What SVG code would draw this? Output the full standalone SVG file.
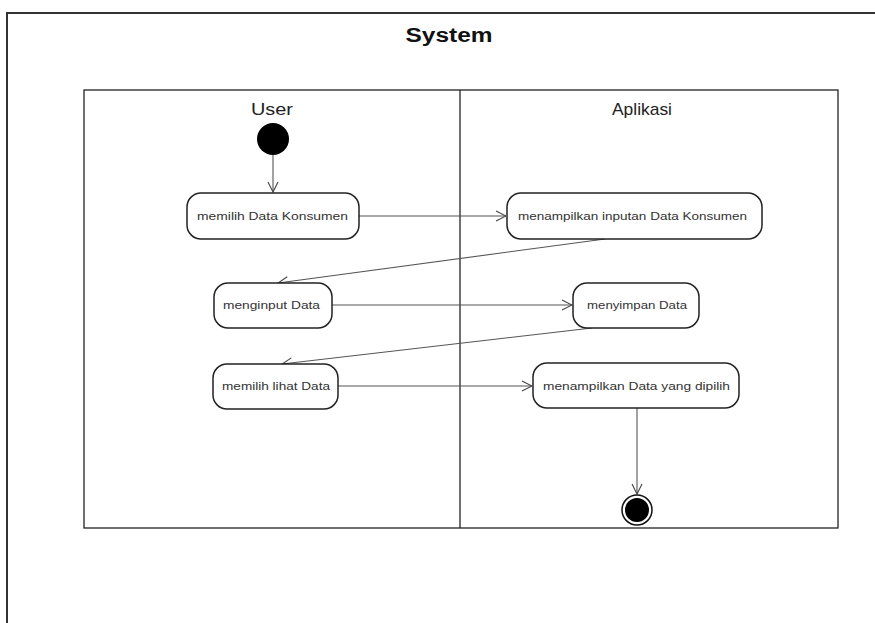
<svg xmlns="http://www.w3.org/2000/svg" width="875" height="623" viewBox="0 0 875 623">
  <style>
    .frame { fill: none; stroke: #333; stroke-width: 2; }
    .lane { fill: none; stroke: #222; stroke-width: 1.3; }
    .act { fill: #fff; stroke: #222; stroke-width: 1.5; }
    .lbl { font-family: "Liberation Sans", Arial, sans-serif; font-size: 11px; fill: #333; text-anchor: middle; dominant-baseline: central; }
    .hdr { font-family: "Liberation Sans", Arial, sans-serif; font-size: 17px; fill: #222; text-anchor: middle; }
    .title { font-family: "Liberation Sans", Arial, sans-serif; font-size: 20px; font-weight: bold; fill: #111; text-anchor: middle; }
    .flow { fill: none; stroke: #555; stroke-width: 1.1; marker-end: url(#open); }
  </style>
  <defs>
    <marker id="open" viewBox="0 0 12 12" refX="11" refY="6" markerWidth="12" markerHeight="12" markerUnits="userSpaceOnUse" orient="auto">
      <path d="M1,1 L11,6 L1,11" fill="none" stroke="#444" stroke-width="1.1"/>
    </marker>
  </defs>
  <rect width="875" height="623" fill="#fff"/>

  <!-- system boundary -->
  <g id="system">
    <path class="frame" d="M7,640 L7,13 L890,13"/>
    <text class="title" x="449" y="42" textLength="87" lengthAdjust="spacingAndGlyphs">System</text>
  </g>

  <!-- swimlanes -->
  <g id="lanes">
    <rect class="lane" x="84" y="90" width="754" height="438"/>
    <line class="lane" x1="460" y1="90" x2="460" y2="528"/>
    <text class="hdr" x="272" y="115" textLength="42" lengthAdjust="spacingAndGlyphs">User</text>
    <text class="hdr" x="642" y="115" textLength="60" lengthAdjust="spacingAndGlyphs">Aplikasi</text>
  </g>

  <!-- connectors -->
  <g id="connectors">
    <line class="flow" x1="273" y1="155" x2="273" y2="192"/>
    <line class="flow" x1="359" y1="216" x2="506" y2="216"/>
    <line class="flow" x1="605" y1="239" x2="278" y2="283"/>
    <line class="flow" x1="332" y1="305" x2="572" y2="305"/>
    <line class="flow" x1="592" y1="328" x2="282" y2="364"/>
    <line class="flow" x1="338" y1="386" x2="532" y2="386"/>
    <line class="flow" x1="637" y1="408" x2="637" y2="494"/>
  </g>

  <g id="start">
    <circle cx="273" cy="139" r="16" fill="#000"/>
  </g>

  <g id="a1">
    <rect class="act" x="187" y="193" width="172" height="46" rx="14"/>
    <text class="lbl" x="272.5" y="216" textLength="151" lengthAdjust="spacingAndGlyphs">memilih Data Konsumen</text>
  </g>
  <g id="a2">
    <rect class="act" x="507" y="193" width="255" height="46" rx="14"/>
    <text class="lbl" x="632.5" y="216" textLength="229" lengthAdjust="spacingAndGlyphs">menampilkan inputan Data Konsumen</text>
  </g>
  <g id="a3">
    <rect class="act" x="214" y="283" width="118" height="45" rx="14"/>
    <text class="lbl" x="271.5" y="305" textLength="97" lengthAdjust="spacingAndGlyphs">menginput Data</text>
  </g>
  <g id="a4">
    <rect class="act" x="573" y="283" width="126" height="45" rx="14"/>
    <text class="lbl" x="637" y="305" textLength="100" lengthAdjust="spacingAndGlyphs">menyimpan Data</text>
  </g>
  <g id="a5">
    <rect class="act" x="213" y="364" width="125" height="45" rx="14"/>
    <text class="lbl" x="276" y="386" textLength="108" lengthAdjust="spacingAndGlyphs">memilih lihat Data</text>
  </g>
  <g id="a6">
    <rect class="act" x="533" y="363" width="206" height="45" rx="14"/>
    <text class="lbl" x="636.5" y="386" textLength="187" lengthAdjust="spacingAndGlyphs">menampilkan Data yang dipilih</text>
  </g>

  <g id="end">
    <circle cx="637" cy="510" r="15" fill="#fff" stroke="#111" stroke-width="1.5"/>
    <circle cx="637" cy="510" r="12" fill="#000"/>
  </g>
</svg>
